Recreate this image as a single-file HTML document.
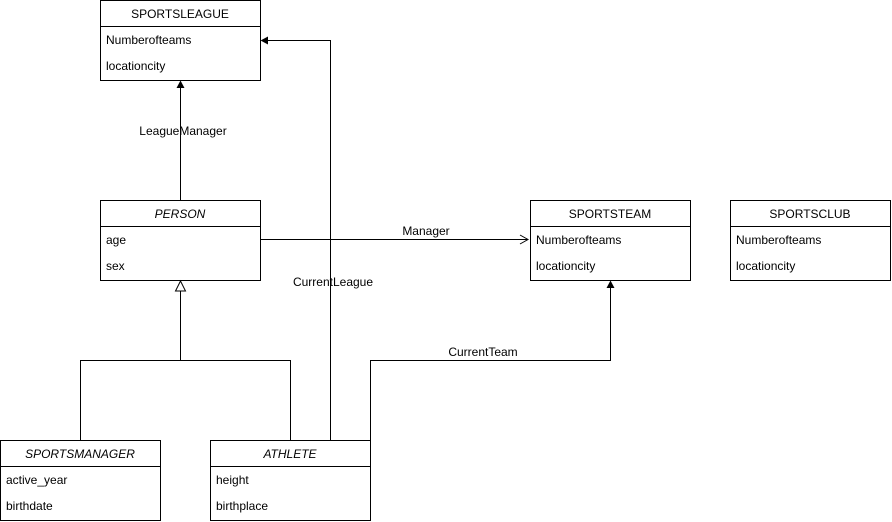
<!DOCTYPE html>
<html><head><style>
body{margin:0;background:#fff;}
svg{display:block;font-family:"Liberation Sans",Arial,sans-serif;font-size:12px;}
</style></head><body>
<svg width="892" height="522" viewBox="0 0 892 522" xmlns="http://www.w3.org/2000/svg">
<g fill="#fff" stroke="#000" stroke-width="1">
<rect x="100.5" y="0.5" width="160" height="80"/><line x1="100.5" y1="26.5" x2="260.5" y2="26.5"/>
<rect x="100.5" y="200.5" width="160" height="80"/><line x1="100.5" y1="226.5" x2="260.5" y2="226.5"/>
<rect x="530.5" y="200.5" width="160" height="80"/><line x1="530.5" y1="226.5" x2="690.5" y2="226.5"/>
<rect x="730.5" y="200.5" width="160" height="80"/><line x1="730.5" y1="226.5" x2="890.5" y2="226.5"/>
<rect x="0.5" y="440.5" width="160" height="80"/><line x1="0.5" y1="466.5" x2="160.5" y2="466.5"/>
<rect x="210.5" y="440.5" width="160" height="80"/><line x1="210.5" y1="466.5" x2="370.5" y2="466.5"/>
</g>
<g fill="none" stroke="#000" stroke-width="1">
<polyline points="180.5,200 180.5,87"/>
<polyline points="260,239.5 527,239.5"/>
<polyline points="520,235 528,239.5 520,244"/>
<polyline points="330.5,440 330.5,40.5 267,40.5"/>
<polyline points="180.5,291 180.5,360.5 80.5,360.5 80.5,440"/>
<polyline points="180.5,360.5 290.5,360.5 290.5,440"/>
<polyline points="370.5,440 370.5,360.5 610.5,360.5 610.5,287"/>
</g>
<g fill="#000">
<polygon points="180.5,80.5 176.5,88 184.5,88"/>
<polygon points="260.5,40.5 268,36.5 268,44.5"/>
<polygon points="610.5,280.5 606.5,288 614.5,288"/>
</g>
<polygon points="180.5,281 175.5,291 185.5,291" fill="#fff" stroke="#000"/>
<g text-anchor="middle">
<text x="180" y="18">SPORTSLEAGUE</text>
<text x="180" y="218" font-style="italic">PERSON</text>
<text x="610" y="218">SPORTSTEAM</text>
<text x="810" y="218">SPORTSCLUB</text>
<text x="80" y="458" font-style="italic">SPORTSMANAGER</text>
<text x="290" y="458" font-style="italic">ATHLETE</text>
<text x="183" y="135">LeagueManager</text>
<text x="426" y="235">Manager</text>
<text x="333" y="286">CurrentLeague</text>
<text x="483" y="356">CurrentTeam</text>
</g>
<g>
<text x="106" y="44">Numberofteams</text>
<text x="106" y="70">locationcity</text>
<text x="106" y="244">age</text>
<text x="106" y="270">sex</text>
<text x="536" y="244">Numberofteams</text>
<text x="536" y="270">locationcity</text>
<text x="736" y="244">Numberofteams</text>
<text x="736" y="270">locationcity</text>
<text x="6" y="484">active_year</text>
<text x="6" y="510">birthdate</text>
<text x="216" y="484">height</text>
<text x="216" y="510">birthplace</text>
</g>
</svg>
</body></html>
